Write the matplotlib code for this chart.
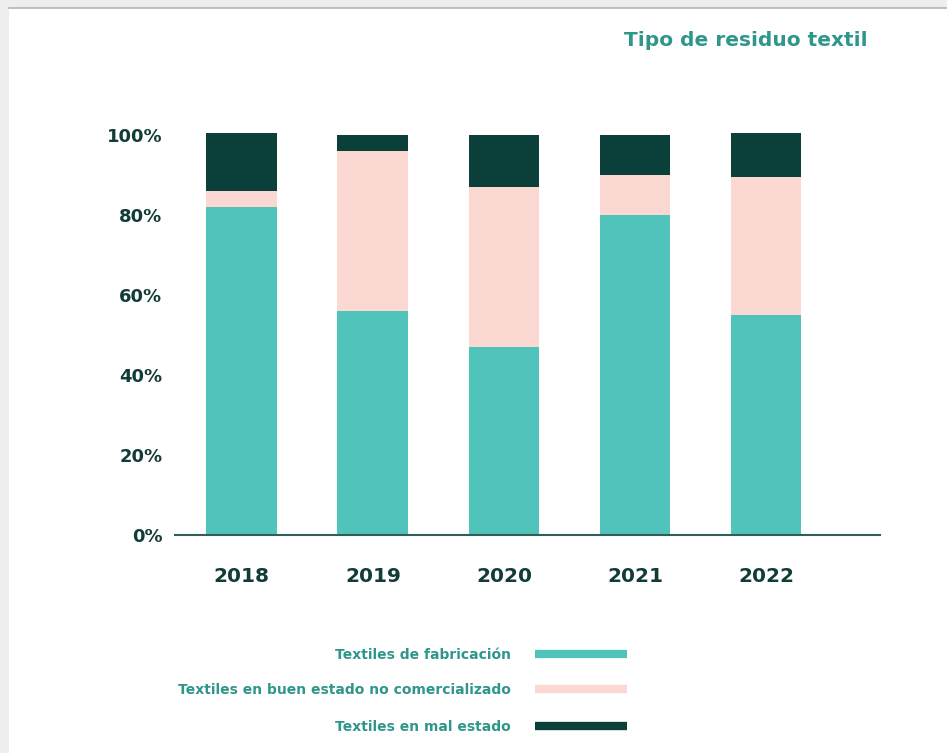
import matplotlib.pyplot as plt
from matplotlib.patches import Rectangle
from matplotlib.lines import Line2D
import numpy as np

# ── data ─────────────────────────────────────────────────────
years = ["2018", "2019", "2020", "2021", "2022"]
fabricacion = [82, 56, 47, 80, 55]
buen_estado = [4, 40, 40, 10, 34.5]
mal_estado = [14.5, 4, 13, 10, 11]
series_names = ["Textiles de fabricación",
                "Textiles en buen estado no comercializado",
                "Textiles en mal estado"]
yticks = [0, 20, 40, 60, 80, 100]

TEAL = "#50c4bb"
PINK = "#fcd8d2"
DARK = "#0b3f3a"
TXT_TEAL = "#2f968b"
TXT_DARK = "#123c38"

W, H = 947, 753
fig = plt.figure(figsize=(W / 100, H / 100), dpi=100, facecolor="white")

# page-like frame: grey strip top and left
fig.patches.append(Rectangle((0, 1 - 8 / H), 1, 8 / H, transform=fig.transFigure,
                             facecolor="#eeeeee", edgecolor="none", zorder=0))
fig.patches.append(Rectangle((0, 0), 9 / W, 1, transform=fig.transFigure,
                             facecolor="#eeeeee", edgecolor="none", zorder=0))
fig.lines.append(Line2D([9 / W, 1], [1 - 8 / H, 1 - 8 / H], transform=fig.transFigure,
                        color="#b4b4b4", lw=1.2))

# axes placed in pixel coords: 0% at y=535, 100% at y=135 (4 px per %)
ax_left, ax_right = 175, 880
y0_px = 535
top_val = 110
ax = fig.add_axes([ax_left / W, (H - y0_px) / H, (ax_right - ax_left) / W, top_val * 4 / H])
ax.set_xlim(-0.51, 4.87)
ax.set_ylim(0, top_val)

x = np.arange(len(years))
bw = 0.54
fab = np.array(fabricacion)
buen = np.array(buen_estado)
mal = np.array(mal_estado)
ax.bar(x, fab, width=bw, color=TEAL, zorder=2)
ax.bar(x, buen, width=bw, bottom=fab, color=PINK, zorder=2)
ax.bar(x, mal, width=bw, bottom=fab + buen, color=DARK, zorder=2)

for s in ["top", "right", "left"]:
    ax.spines[s].set_visible(False)
ax.spines["bottom"].set_color("#2f5f5a")
ax.spines["bottom"].set_linewidth(1.5)
ax.spines["bottom"].set_zorder(3)

ax.set_yticks(yticks)
ax.set_yticklabels([f"{v}%" for v in yticks])
ax.set_xticks(x)
ax.set_xticklabels(years)
ax.tick_params(axis="both", length=0)
ax.tick_params(axis="y", pad=9)
ax.tick_params(axis="x", pad=23)
for lab in ax.get_yticklabels():
    lab.set_fontsize(13)
    lab.set_fontweight("bold")
    lab.set_color(TXT_DARK)
for lab in ax.get_xticklabels():
    lab.set_fontsize(14.5)
    lab.set_fontweight("bold")
    lab.set_color(TXT_DARK)

# title
fig.text(868 / W, 1 - 41 / H, "Tipo de residuo textil", ha="right", va="center",
         fontsize=14.5, fontweight="bold", color=TXT_TEAL)

# custom legend: label right aligned, thick line to the right
leg_rows = [655, 690, 727]
leg_colors = [TEAL, PINK, DARK]
for name, col, yy in zip(series_names, leg_colors, leg_rows):
    yf = 1 - yy / H
    fig.text(511 / W, yf, name, ha="right", va="center", fontsize=10,
             fontweight="bold", color=TXT_TEAL)
    fig.lines.append(Line2D([535 / W, 627 / W], [yf + 1 / H, yf + 1 / H],
                            transform=fig.transFigure, color=col, lw=6,
                            solid_capstyle="butt"))

fig.savefig("out.png", dpi=100, facecolor="white")
